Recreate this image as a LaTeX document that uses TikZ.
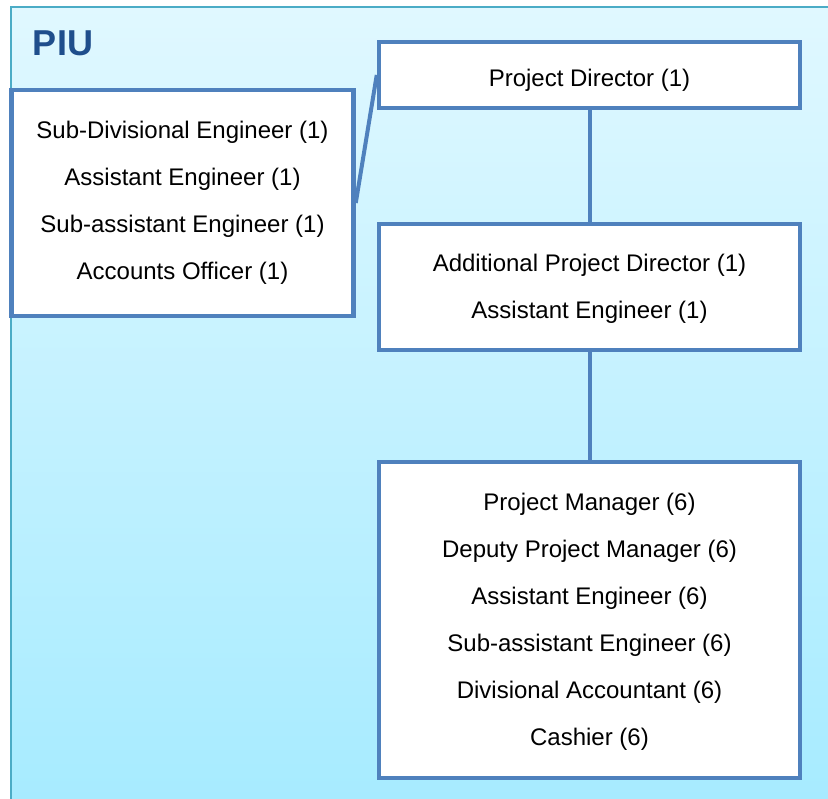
\documentclass[tikz,border=0pt]{standalone}
\usepackage{fontspec}
\setmainfont{Liberation Sans}
\definecolor{boxblue}{RGB}{79,129,189}
\definecolor{piublue}{RGB}{31,78,140}
\definecolor{bgtop}{RGB}{224,248,255}
\definecolor{bgbottom}{RGB}{166,235,255}
\definecolor{bgedge}{RGB}{75,172,198}
\begin{document}
\begin{tikzpicture}[x=1pt, y=-1pt,
        staffbox/.style={draw=boxblue, line width=4.5pt, fill=white, align=center,
            inner sep=0pt, font=\fontsize{24}{47}\selectfont},
        link/.style={draw=boxblue, line width=4pt}]
    \useasboundingbox (0,0) rectangle (828,799);

    % PIU background
    \shade[top color=bgtop, bottom color=bgbottom] (11,7) rectangle (840,812);
    \draw[bgedge, line width=1.2pt] (11,812) -- (11,7) -- (840,7);
    \node[piublue, font=\fontsize{36}{36}\selectfont\bfseries] (piu) at (63,43) {PIU};

    % Boxes
    \node[staffbox, minimum width=421pt, minimum height=66pt,
        text height=26pt, text depth=2.8pt] (pd) at (589.5,75)
        {Project Director (1)};
    \node[staffbox, minimum width=342pt, minimum height=226pt] (left) at (182.5,203)
        {Sub-Divisional Engineer (1)\\Assistant Engineer (1)\\Sub-assistant Engineer (1)\\Accounts Officer (1)};
    \node[staffbox, minimum width=421pt, minimum height=126pt,
        text height=63.5pt, text depth=0pt] (apd) at (589.5,287)
        {Additional Project Director (1)\\Assistant Engineer (1)};
    \node[staffbox, minimum width=421pt, minimum height=316pt,
        text depth=1.5pt] (pm) at (589.5,620)
        {Project Manager (6)\\Deputy Project Manager (6)\\Assistant Engineer (6)\\Sub-assistant Engineer (6)\\Divisional Accountant (6)\\Cashier (6)};

    % Connectors
    \draw[link] (pd.south) -- (apd.north);
    \draw[link] (apd.south) -- (pm.north);
    \draw[link] (left.east) -- (pd.west);
\end{tikzpicture}
\end{document}
